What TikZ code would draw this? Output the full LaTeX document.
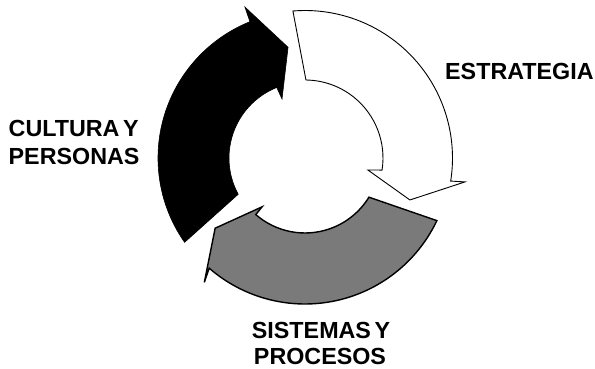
\documentclass[tikz,border=0pt]{standalone}
\usepackage{fontspec}
\setmainfont{Liberation Sans}
\newcommand\narrowspaces{\spaceskip=0.15em plus 0.05em\relax}
\begin{document}
\begin{tikzpicture}[x=1pt,y=1pt,
  lbl/.style={inner sep=0pt, font=\fontsize{23.3}{27}\selectfont\bfseries},
  blackarrow/.style={fill=black, draw=black, line width=0.6pt, line join=miter},
  whitearrow/.style={fill=white, draw=black, line width=0.9pt, line join=miter},
  grayarrow/.style={fill=black!52, draw=black, line width=1.4pt, line join=miter}]
\useasboundingbox (-305,-211) rectangle (290,158);
% black arrow (CULTURA Y PERSONAS)
\path[blackarrow] (215:147) arc[start angle=215, end angle=112, radius=147]
  -- (111.7:162.5) -- (98.7:112) -- (111.3:63.3) -- (111.8:76)
  arc[start angle=111.8, end angle=208.5, radius=76] -- cycle;
% white arrow (ESTRATEGIA)
\path[whitearrow] (94.7:147.5) arc[start angle=94.7, end angle=-9, radius=147.5]
  -- (-8.5:161.8) -- (-21.8:113) -- (-10.8:64) -- (-8.9:78)
  arc[start angle=-8.9, end angle=89.3, radius=78] -- cycle;
% gray arrow (SISTEMAS Y PROCESOS)
\path[grayarrow] (-25.4:146) arc[start angle=-25.4, end angle=-131, radius=146]
  -- (-129:160) -- (-142:114) -- (-131.3:65) -- (-131:75)
  arc[start angle=-131, end angle=-31.5, radius=75] -- cycle;
% labels
\node[lbl, anchor=base west] (cult) at (-296.5,21) {\narrowspaces CULTURA Y};
\node[lbl, anchor=base west] (pers) at (-296.5,-7) {PERSONAS};
\node[lbl, anchor=base west] (estr) at (140,78) {ESTRATEGIA};
\node[lbl, anchor=base] (sist) at (16,-180) {\narrowspaces SISTEMAS Y};
\node[lbl, anchor=base] (proc) at (15,-206.5) {PROCESOS};
\end{tikzpicture}
\end{document}
